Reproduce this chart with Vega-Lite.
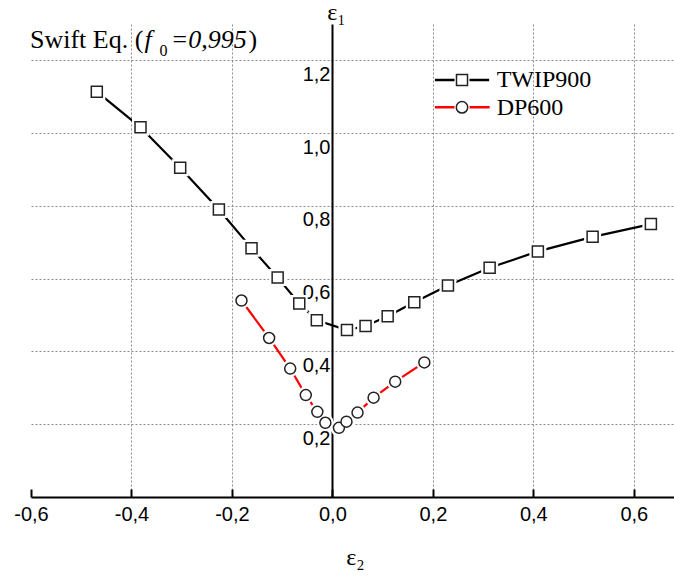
{
  "$schema": "https://vega.github.io/schema/vega-lite/v6.json",
  "width": 643,
  "height": 473,
  "autosize": {"type": "none"},
  "padding": {"left": 31, "top": 24, "right": 0, "bottom": 79},
  "background": "white",
  "config": {"view": {"stroke": null}},
  "data": {
    "values": [
      {"series": "TWIP900", "e2": -0.469, "e1": 1.114},
      {"series": "TWIP900", "e2": -0.382, "e1": 1.016},
      {"series": "TWIP900", "e2": -0.303, "e1": 0.905},
      {"series": "TWIP900", "e2": -0.226, "e1": 0.790},
      {"series": "TWIP900", "e2": -0.161, "e1": 0.684},
      {"series": "TWIP900", "e2": -0.109, "e1": 0.603},
      {"series": "TWIP900", "e2": -0.066, "e1": 0.532},
      {"series": "TWIP900", "e2": -0.031, "e1": 0.486},
      {"series": "TWIP900", "e2": 0.029, "e1": 0.459},
      {"series": "TWIP900", "e2": 0.066, "e1": 0.470},
      {"series": "TWIP900", "e2": 0.110, "e1": 0.497},
      {"series": "TWIP900", "e2": 0.163, "e1": 0.535},
      {"series": "TWIP900", "e2": 0.230, "e1": 0.581},
      {"series": "TWIP900", "e2": 0.313, "e1": 0.630},
      {"series": "TWIP900", "e2": 0.409, "e1": 0.675},
      {"series": "TWIP900", "e2": 0.518, "e1": 0.715},
      {"series": "TWIP900", "e2": 0.634, "e1": 0.750},
      {"series": "DP600", "e2": -0.181, "e1": 0.540},
      {"series": "DP600", "e2": -0.126, "e1": 0.437},
      {"series": "DP600", "e2": -0.084, "e1": 0.353},
      {"series": "DP600", "e2": -0.053, "e1": 0.280},
      {"series": "DP600", "e2": -0.030, "e1": 0.234},
      {"series": "DP600", "e2": -0.014, "e1": 0.204},
      {"series": "DP600", "e2": 0.013, "e1": 0.190},
      {"series": "DP600", "e2": 0.028, "e1": 0.207},
      {"series": "DP600", "e2": 0.050, "e1": 0.232},
      {"series": "DP600", "e2": 0.082, "e1": 0.273},
      {"series": "DP600", "e2": 0.125, "e1": 0.317},
      {"series": "DP600", "e2": 0.183, "e1": 0.370}
    ]
  },
  "layer": [
    {
      "mark": {"type": "line", "strokeWidth": 2.2},
      "encoding": {
        "x": {
          "field": "e2", "type": "quantitative",
          "scale": {"domain": [-0.6, 0.68], "nice": false, "zero": false},
          "axis": {
            "values": [-0.6, -0.4, -0.2, 0, 0.2, 0.4, 0.6],
            "labelExpr": "replace(replace(format(datum.value, '.1f'), '.', ','), '\u2212', '-')",
            "title": "ε₂",
            "grid": true,
            "gridColor": "#8a8a8a",
            "gridDash": [2, 2],
            "gridWidth": 1,
            "gridOpacity": {"condition": {"test": "datum.value == 0 || datum.value < -0.59", "value": 0}, "value": 1},
            "domainColor": "black",
            "domainWidth": 2,
            "tickColor": "black",
            "tickWidth": 2,
            "tickSize": -8,
            "labelFont": "Liberation Sans",
            "labelFontSize": 20,
            "labelColor": "black",
            "labelPadding": 15,
            "labelFlush": false,
            "labelOverlap": false,
            "labelBound": false,
            "titleFont": "Liberation Serif",
            "titleFontSize": 24,
            "titleFontWeight": "normal",
            "titleColor": "black",
            "titleX": 324,
            "titleY": 60,
            "titleBaseline": "middle",
            "titleAlign": "center"
          }
        },
        "y": {
          "field": "e1", "type": "quantitative",
          "scale": {"domain": [0, 1.3], "nice": false},
          "axis": {
            "values": [0.2, 0.4, 0.6, 0.8, 1.0, 1.2],
            "labelExpr": "replace(format(datum.value, '.1f'), '.', ',')",
            "offset": -301,
            "ticks": false,
            "grid": true,
            "gridColor": "#8a8a8a",
            "gridDash": [2, 2],
            "gridWidth": 1,
            "domainColor": "black",
            "domainWidth": 2,
            "labelFont": "Liberation Sans",
            "labelFontSize": 20,
            "labelColor": "black",
            "labelPadding": 2,
            "labelOffset": 14,
            "labelFlush": false,
            "labelOverlap": false,
            "labelBound": false,
            "title": "ε₁",
            "titleAngle": 0,
            "titleX": 4,
            "titleY": -12,
            "titleAlign": "center",
            "titleBaseline": "middle",
            "titleFont": "Liberation Serif",
            "titleFontSize": 24,
            "titleFontWeight": "normal",
            "titleColor": "black"
          }
        },
        "color": {
          "field": "series", "type": "nominal",
          "scale": {"domain": ["TWIP900", "DP600"], "range": ["#000000", "#ff0000"]},
          "legend": null
        }
      }
    },
    {
      "mark": {"type": "point", "filled": true, "fill": "white", "stroke": "white", "strokeWidth": 6, "size": 121, "opacity": 1},
      "encoding": {
        "x": {"field": "e2", "type": "quantitative"},
        "y": {"field": "e1", "type": "quantitative"},
        "shape": {
          "field": "series", "type": "nominal",
          "scale": {"domain": ["TWIP900", "DP600"], "range": ["square", "circle"]},
          "legend": null
        }
      }
    },
    {
      "mark": {"type": "point", "filled": true, "fill": "white", "stroke": "#222222", "strokeWidth": 1.5, "size": 121, "opacity": 1},
      "encoding": {
        "x": {"field": "e2", "type": "quantitative"},
        "y": {"field": "e1", "type": "quantitative"},
        "shape": {
          "field": "series", "type": "nominal",
          "scale": {"domain": ["TWIP900", "DP600"], "range": ["square", "circle"]},
          "legend": null
        }
      }
    },
    {
      "transform": [{"aggregate": [{"op": "count", "as": "n"}]}],
      "mark": {"type": "rule", "color": "#000000", "strokeWidth": 2.5},
      "encoding": {"x": {"datum": 0.204}, "x2": {"datum": 0.312}, "y": {"datum": 1.146}}
    },
    {
      "transform": [{"aggregate": [{"op": "count", "as": "n"}]}],
      "mark": {"type": "rule", "color": "#ff0000", "strokeWidth": 2.5},
      "encoding": {"x": {"datum": 0.204}, "x2": {"datum": 0.313}, "y": {"datum": 1.071}}
    },
    {
      "transform": [{"aggregate": [{"op": "count", "as": "n"}]}],
      "mark": {"type": "point", "shape": "square", "filled": true, "fill": "white", "stroke": "white", "strokeWidth": 4, "size": 121, "opacity": 1},
      "encoding": {"x": {"datum": 0.258}, "y": {"datum": 1.146}}
    },
    {
      "transform": [{"aggregate": [{"op": "count", "as": "n"}]}],
      "mark": {"type": "point", "shape": "square", "filled": true, "fill": "white", "stroke": "#222222", "strokeWidth": 1.5, "size": 121, "opacity": 1},
      "encoding": {"x": {"datum": 0.258}, "y": {"datum": 1.146}}
    },
    {
      "transform": [{"aggregate": [{"op": "count", "as": "n"}]}],
      "mark": {"type": "point", "shape": "circle", "filled": true, "fill": "white", "stroke": "white", "strokeWidth": 4, "size": 130, "opacity": 1},
      "encoding": {"x": {"datum": 0.258}, "y": {"datum": 1.071}}
    },
    {
      "transform": [{"aggregate": [{"op": "count", "as": "n"}]}],
      "mark": {"type": "point", "shape": "circle", "filled": true, "fill": "white", "stroke": "#222222", "strokeWidth": 1.5, "size": 130, "opacity": 1},
      "encoding": {"x": {"datum": 0.258}, "y": {"datum": 1.071}}
    },
    {
      "transform": [{"aggregate": [{"op": "count", "as": "n"}]}],
      "mark": {"type": "text", "text": "TWIP900", "font": "Liberation Serif", "fontSize": 24, "align": "left", "baseline": "alphabetic", "fill": "black"},
      "encoding": {"x": {"datum": 0.327}, "y": {"datum": 1.126}}
    },
    {
      "transform": [{"aggregate": [{"op": "count", "as": "n"}]}],
      "mark": {"type": "text", "text": "DP600", "font": "Liberation Serif", "fontSize": 24, "align": "left", "baseline": "alphabetic", "fill": "black"},
      "encoding": {"x": {"datum": 0.327}, "y": {"datum": 1.05}}
    },
    {
      "transform": [{"aggregate": [{"op": "count", "as": "n"}]}],
      "mark": {"type": "text", "text": "Swift Eq. (", "font": "Liberation Serif", "fontSize": 26, "align": "left", "baseline": "bottom", "fill": "black"},
      "encoding": {"x": {"datum": -0.602}, "y": {"datum": 1.22}}
    },
    {
      "transform": [{"aggregate": [{"op": "count", "as": "n"}]}],
      "mark": {"type": "text", "text": "f", "font": "Liberation Serif", "fontStyle": "italic", "fontSize": 26, "align": "left", "baseline": "bottom", "fill": "black"},
      "encoding": {"x": {"datum": -0.374}, "y": {"datum": 1.22}}
    },
    {
      "transform": [{"aggregate": [{"op": "count", "as": "n"}]}],
      "mark": {"type": "text", "text": "0", "font": "Liberation Serif", "fontSize": 16, "align": "left", "baseline": "bottom", "fill": "black"},
      "encoding": {"x": {"datum": -0.344}, "y": {"datum": 1.205}}
    },
    {
      "transform": [{"aggregate": [{"op": "count", "as": "n"}]}],
      "mark": {"type": "text", "text": "=0,995", "font": "Liberation Serif", "fontStyle": "italic", "fontSize": 26, "align": "left", "baseline": "bottom", "fill": "black"},
      "encoding": {"x": {"datum": -0.322}, "y": {"datum": 1.22}}
    },
    {
      "transform": [{"aggregate": [{"op": "count", "as": "n"}]}],
      "mark": {"type": "text", "text": ")", "font": "Liberation Serif", "fontSize": 26, "align": "left", "baseline": "bottom", "fill": "black"},
      "encoding": {"x": {"datum": -0.167}, "y": {"datum": 1.22}}
    }
  ]
}
